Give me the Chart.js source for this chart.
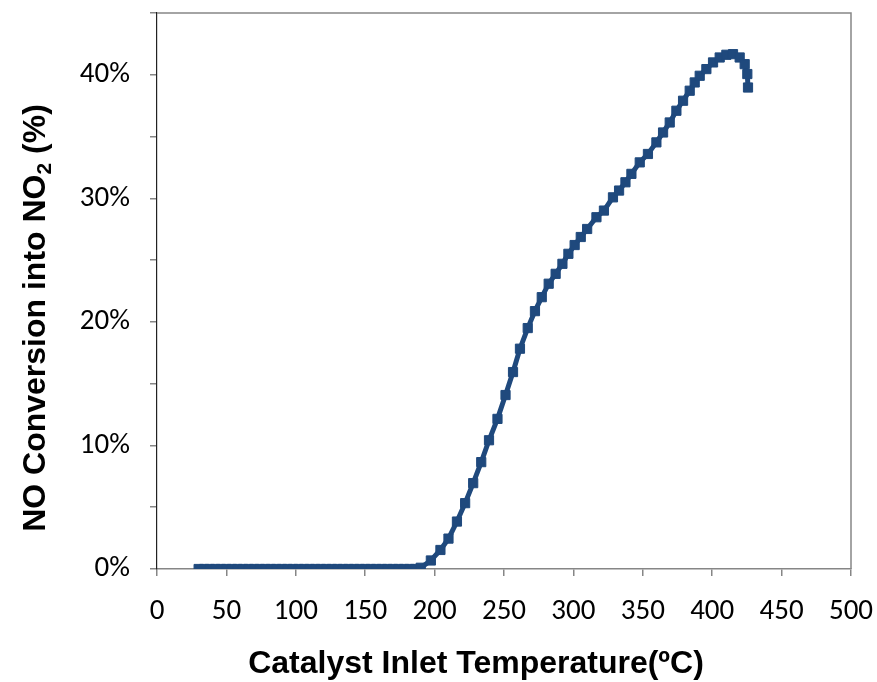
<!DOCTYPE html>
<html>
<head>
<meta charset="utf-8">
<script src="https://cdn.jsdelivr.net/npm/chart.js@4/dist/chart.umd.min.js"></script>
<style>
  html, body { margin: 0; padding: 0; background: #fff; }
  #wrap { width: 877px; height: 682px; }
</style>
</head>
<body>
<div id="wrap"><canvas id="grafico"></canvas></div>
<script>
  // temperatura de entrada do catalisador (ºC)
  const temperaturas = [
    30, 34, 38, 42, 46, 50, 54, 58, 62, 66, 70, 74, 78, 82, 86, 90, 94, 98,
    102, 106, 110, 114, 118, 122, 126, 130, 134, 138, 142, 146, 150, 154,
    158, 162, 166, 170, 174, 178, 182, 186, 190,
    197.3, 204.2, 210.0, 216.1, 222.0, 227.8, 233.6, 239.2, 245.3, 251.1,
    256.5, 261.5, 267.1, 272.3, 277.2, 282.2, 287.2, 292.1, 296.4, 300.9,
    305.3, 309.9, 316.6, 322.0, 328.5, 332.9, 337.5, 341.8, 347.8, 353.7,
    359.8, 364.6, 369.4, 374.2, 379.0, 383.8, 387.4, 391.0, 395.8, 400.6,
    405.4, 410.2, 415.0, 419.8, 423.4, 425.3, 425.8
  ];
  // conversao de NO em NO2 (fracao)
  const conversao = [
    0, 0, 0, 0, 0, 0, 0, 0, 0, 0, 0, 0, 0, 0, 0, 0, 0, 0,
    0, 0, 0, 0, 0, 0, 0, 0, 0, 0, 0, 0, 0, 0,
    0, 0, 0, 0, 0, 0, 0, 0, 0.001,
    0.0069, 0.0154, 0.0246, 0.0384, 0.0533, 0.0695, 0.0865, 0.1042, 0.1215, 0.1408,
    0.1594, 0.1783, 0.1950, 0.2087, 0.2200, 0.2309, 0.2389, 0.2470, 0.2551, 0.2622,
    0.2687, 0.2752, 0.2847, 0.2901, 0.3008, 0.3063, 0.3130, 0.3198, 0.3291, 0.3359,
    0.3453, 0.3533, 0.3614, 0.3709, 0.3790, 0.3871, 0.3938, 0.3992, 0.4046, 0.4100,
    0.4140, 0.4162, 0.4167, 0.4140, 0.4086, 0.4006, 0.3897
  ];
  const xTicks = [0, 50, 100, 150, 200, 250, 300, 350, 400, 450, 500];
  const yMax = 0.45;
  const tituloX = "Catalyst Inlet Temperature(ºC)";
  const tituloY = ["NO Conversion into NO", "2", " (%)"];

  const azul = "#1F497D";
  const fonteTicks = "Carlito, Calibri, Lato, 'Open Sans', sans-serif";
  const fonteTitulo = "'Liberation Sans', Arial, 'DejaVu Sans', sans-serif";

  // borda cinza no topo e a direita + titulos dos eixos (com subscrito)
  const bordaETitulos = {
    id: "bordaETitulos",
    beforeDatasetsDraw(chart) {
      const { ctx, chartArea: a } = chart;
      ctx.save();
      ctx.strokeStyle = "#868686";
      ctx.lineWidth = 1.5;
      ctx.beginPath();
      ctx.moveTo(a.left, a.top);
      ctx.lineTo(a.right, a.top);
      ctx.lineTo(a.right, a.bottom);
      ctx.stroke();
      ctx.restore();
    },
    afterDraw(chart) {
      const ctx = chart.ctx;
      ctx.save();
      ctx.fillStyle = "#000";
      ctx.textBaseline = "alphabetic";

      // titulo do eixo x
      ctx.font = "bold 32px " + fonteTitulo;
      ctx.textAlign = "center";
      ctx.fillText(tituloX, 476, 673);

      // titulo do eixo y, girado
      const big = "bold 32px " + fonteTitulo;
      const small = "bold 21px " + fonteTitulo;
      ctx.font = big;
      const w1 = ctx.measureText(tituloY[0]).width;
      const w3 = ctx.measureText(tituloY[2]).width;
      ctx.font = small;
      const w2 = ctx.measureText(tituloY[1]).width;
      const total = w1 + w2 + w3;
      ctx.translate(45, 318);
      ctx.rotate(-Math.PI / 2);
      ctx.textAlign = "left";
      let x = -total / 2;
      ctx.font = big;
      ctx.fillText(tituloY[0], x, 0);
      x += w1;
      ctx.font = small;
      ctx.fillText(tituloY[1], x, 6);
      x += w2;
      ctx.font = big;
      ctx.fillText(tituloY[2], x, 0);
      ctx.restore();
    }
  };

  new Chart(document.getElementById("grafico").getContext("2d"), {
    type: "line",
    data: {
      datasets: [{
        data: temperaturas.map((t, i) => ({ x: t, y: conversao[i] })),
        borderColor: azul,
        backgroundColor: azul,
        borderWidth: 5,
        pointStyle: "rect",
        pointRadius: 6.5,
        pointBorderWidth: 1,
        pointBorderColor: azul,
        pointBackgroundColor: azul,
        tension: 0,
        fill: false
      }]
    },
    options: {
      responsive: true,
      maintainAspectRatio: false,
      animation: false,
      layout: { padding: { top: 13, right: 26, left: 0, bottom: 0 } },
      plugins: {
        legend: { display: false },
        tooltip: { enabled: false }
      },
      scales: {
        x: {
          type: "linear",
          min: 0,
          max: 500,
          afterBuildTicks: (s) => { s.ticks = xTicks.map(v => ({ value: v })); },
          afterFit: (s) => {
            s.height = 113;
            s.paddingLeft = 0;
            s.paddingRight = 0;
          },
          grid: {
            drawOnChartArea: false,
            drawTicks: true,
            tickLength: 7,
            color: "#868686",
            lineWidth: 1.5
          },
          border: { color: "#868686", width: 1.5 },
          ticks: {
            color: "#000",
            padding: 18,
            font: { family: fonteTicks, size: 29 },
            maxRotation: 0
          }
        },
        y: {
          min: 0,
          max: yMax,
          ticks: {
            stepSize: 0.05,
            color: "#000",
            padding: 20,
            font: { family: fonteTicks, size: 29 },
            callback: (v) => {
              const p = Math.round(v * 100);
              return p % 10 === 0 ? p + "%" : "";
            }
          },
          afterFit: (s) => {
            s.width = 157;
            s.paddingTop = 0;
            s.paddingBottom = 0;
          },
          grid: {
            drawOnChartArea: false,
            drawTicks: true,
            tickLength: 7,
            color: "#868686",
            lineWidth: 1.5
          },
          border: { color: "#222", width: 1.2 }
        }
      }
    },
    plugins: [bordaETitulos]
  });
</script>
</body>
</html>
